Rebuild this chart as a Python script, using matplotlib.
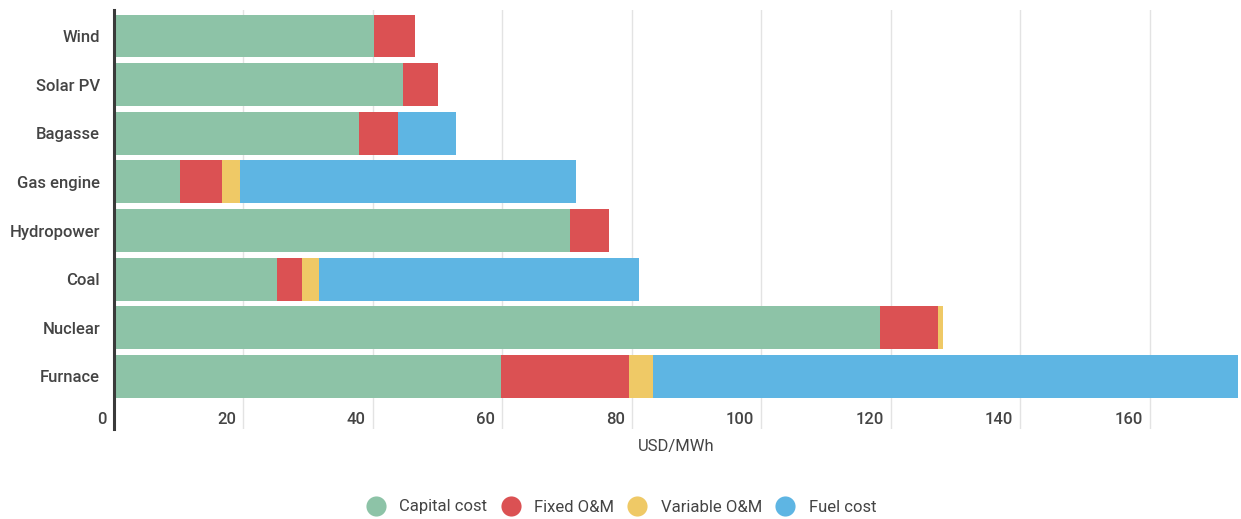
import matplotlib
matplotlib.use("Agg")
import matplotlib.pyplot as plt
import matplotlib.transforms as mtransforms
from matplotlib.lines import Line2D
import numpy as np

plt.rcParams['font.family'] = ['Roboto', 'DejaVu Sans']

technologies = ["Wind", "Solar PV", "Bagasse", "Gas engine", "Hydropower", "Coal", "Nuclear", "Furnace"]
capital_cost = [40.2, 44.7, 37.8, 10.2, 70.4, 25.1, 118.3, 59.8]
fixed_om = [6.3, 5.3, 6.1, 6.5, 6.0, 4.0, 9.0, 19.7]
variable_om = [0.0, 0.0, 0.0, 2.7, 0.0, 2.6, 0.7, 3.8]
fuel_cost = [0.0, 0.0, 8.9, 52.0, 0.0, 49.4, 0.0, 90.3]

series_names = ["Capital cost", "Fixed O&M", "Variable O&M", "Fuel cost"]
series_colors = ["#8DC3A7", "#DB5153", "#EFC966", "#5EB5E3"]
x_ticks = [0, 20, 40, 60, 80, 100, 120, 140, 160]

text_color = "#444444"

fig = plt.figure(figsize=(12.41, 5.19), dpi=100)
ax = fig.add_axes([114 / 1241, 90 / 519, 1124 / 1241, 419 / 519])

y = np.arange(len(technologies))
left = np.zeros(len(technologies))
for values, name, color in zip([capital_cost, fixed_om, variable_om, fuel_cost],
                               series_names, series_colors):
    vals = np.array(values)
    ax.barh(y, vals, left=left, height=0.88, color=color, label=name,
            zorder=3, linewidth=0)
    left += vals

ax.set_xlim(0, left.max())
ax.set_ylim(8.08, -0.534)

ax.set_yticks(y)
ax.set_yticklabels(technologies, fontsize=12, color=text_color, fontweight='medium')
ax.tick_params(axis='y', length=0, pad=10)
ax.set_xticks(x_ticks)
ax.tick_params(axis='x', length=0, labelbottom=False)
ax.grid(axis='x', color="#e3e3e3", linewidth=1.0, zorder=0)

for side in ["top", "right", "bottom"]:
    ax.spines[side].set_visible(False)
ax.spines["left"].set_color("#3a3a3a")
ax.spines["left"].set_linewidth(2.2)
ax.spines["left"].set_zorder(5)

# x tick labels sit inside the plot area, just left of each gridline
label_trans = mtransforms.offset_copy(ax.transData, fig=fig, x=-7, y=0, units='dots')
for t in x_ticks:
    ax.text(t, 7.875, str(t), transform=label_trans, ha='right', va='center',
            fontsize=12, color=text_color, fontweight='medium')

ax.text(0.5, -(447 - 429) / 419, "USD/MWh", transform=ax.transAxes,
        ha='center', va='center', fontsize=12, color=text_color)

handles = [Line2D([0], [0], marker='o', linestyle='none', markersize=14.5,
                  markerfacecolor=c, markeredgecolor='none') for c in series_colors]
leg = fig.legend(handles, series_names, loc='center', ncol=4,
                 bbox_to_anchor=(622 / 1241, 12 / 519), frameon=False,
                 fontsize=12, handlelength=1.0, handletextpad=0.9,
                 columnspacing=0.9, borderpad=0)
for txt in leg.get_texts():
    txt.set_color(text_color)

fig.savefig("out.png", dpi=100)
